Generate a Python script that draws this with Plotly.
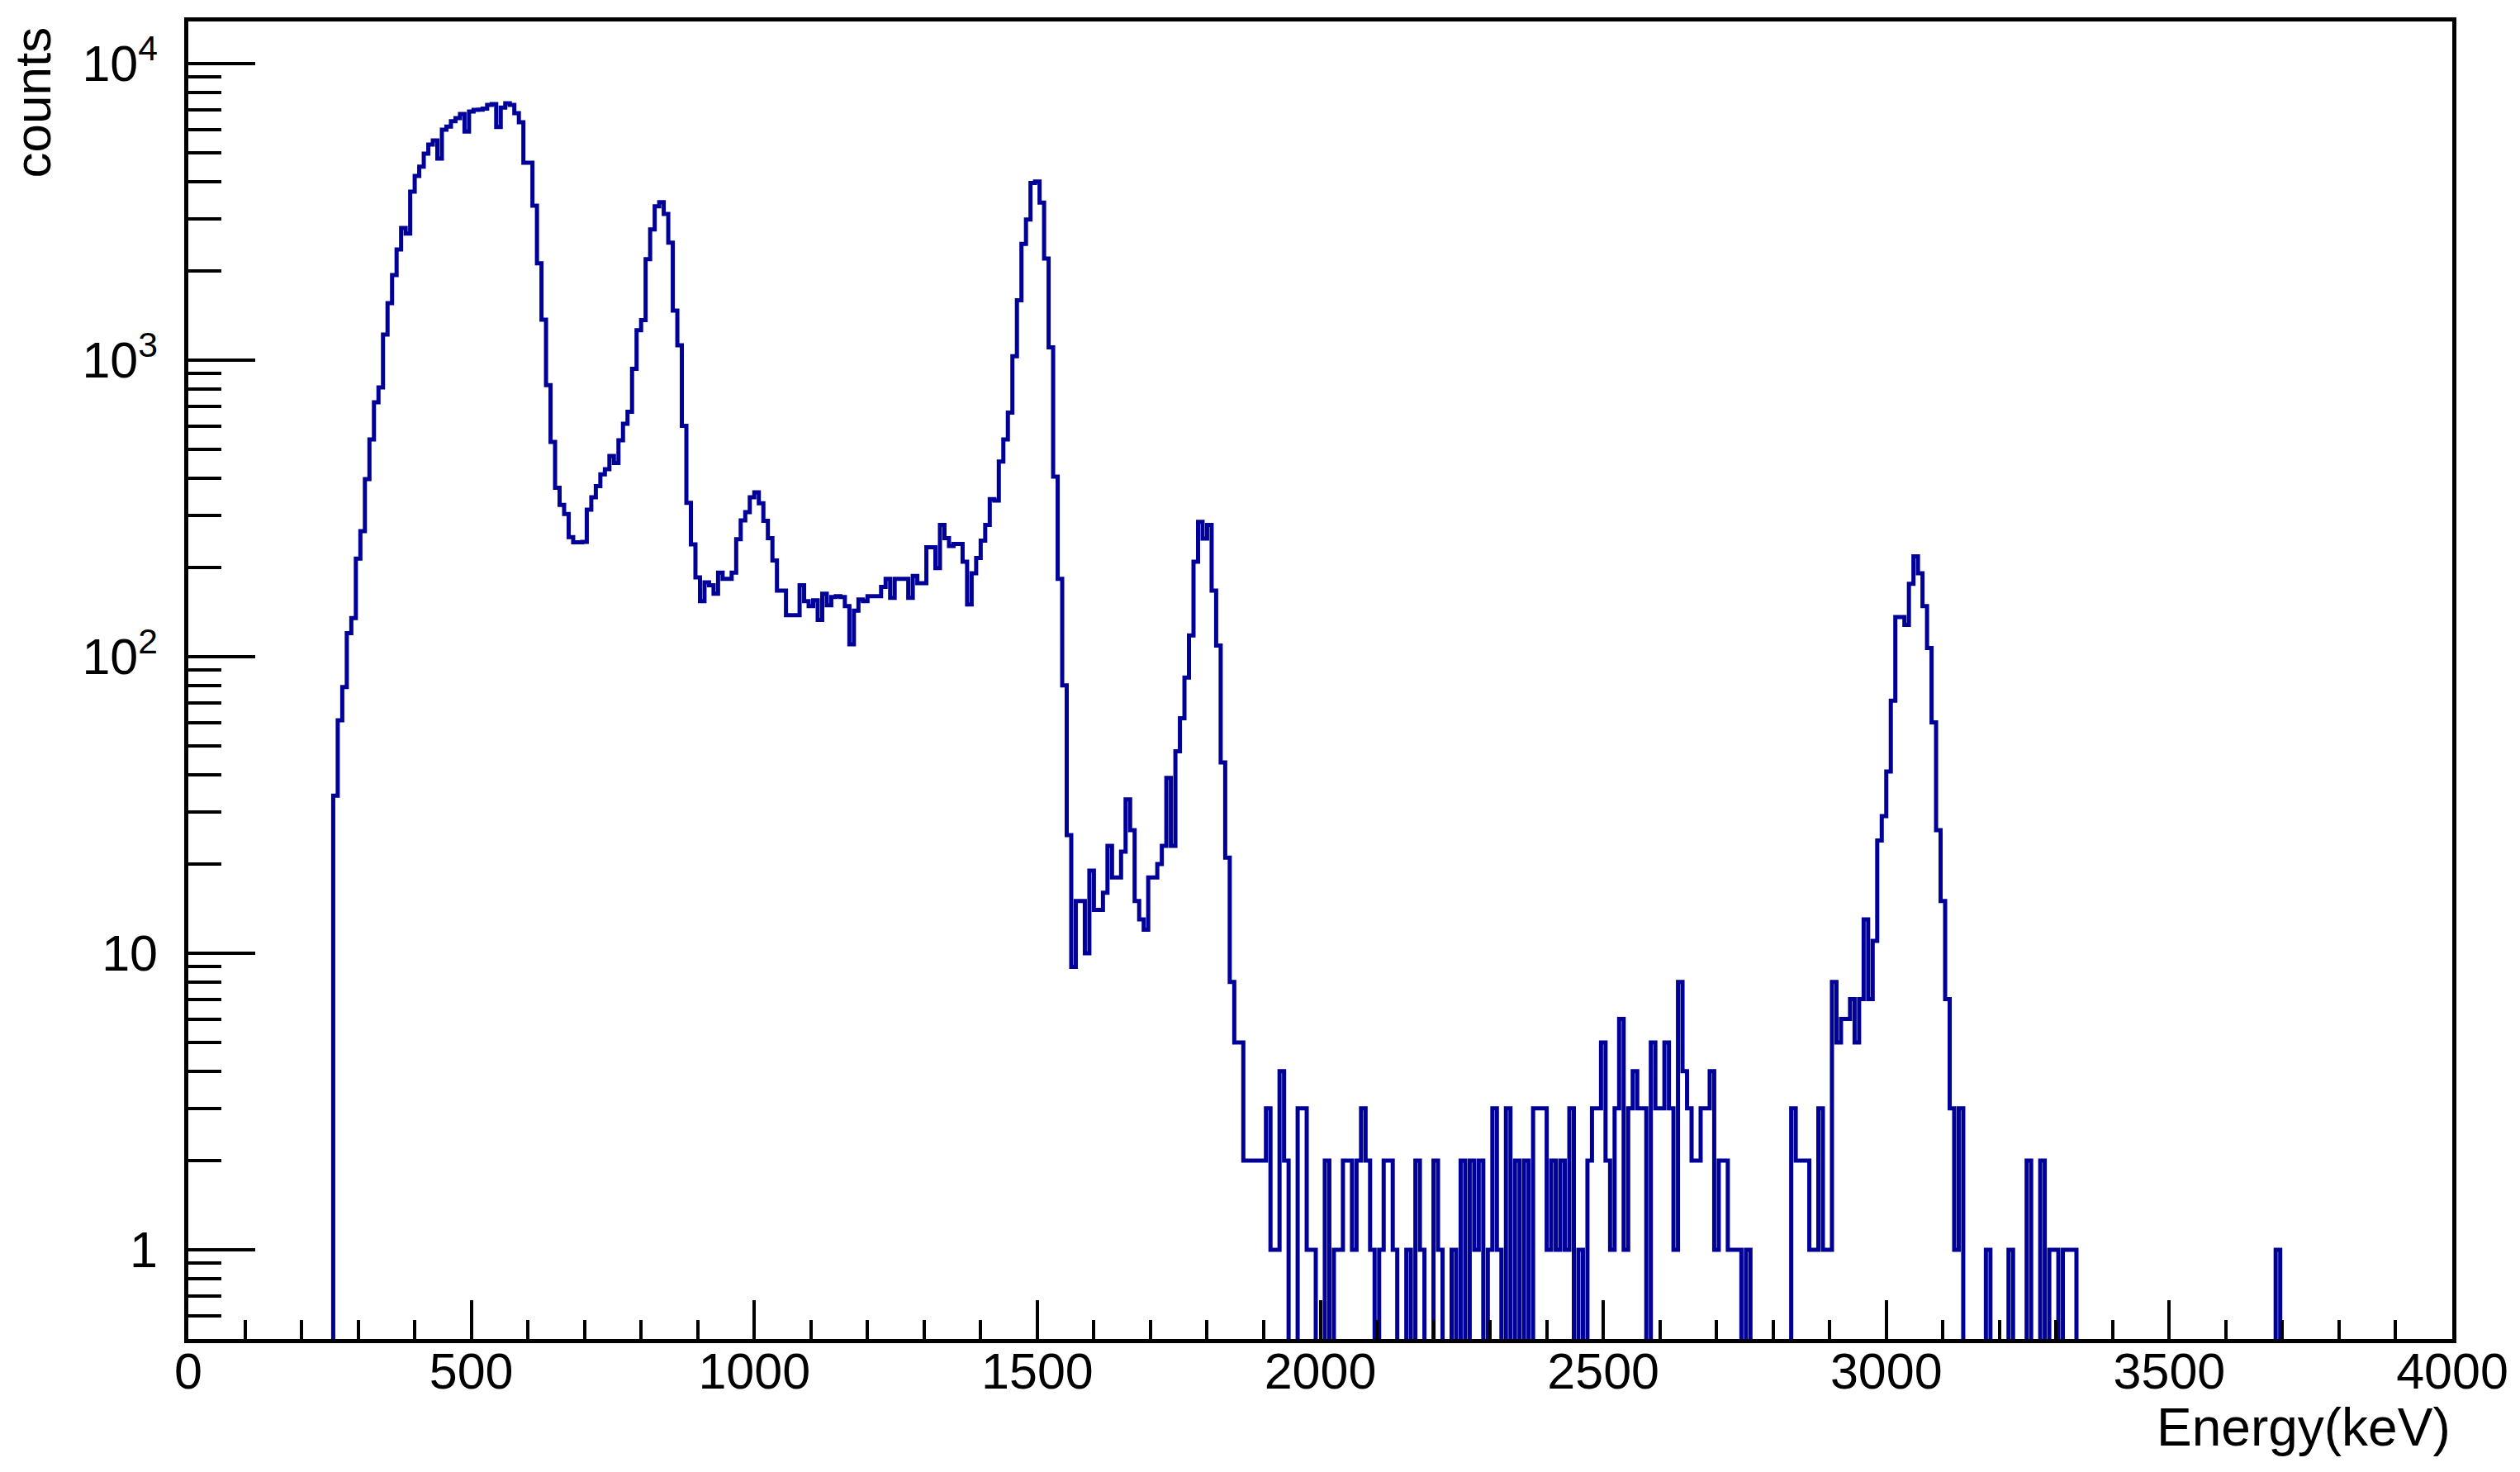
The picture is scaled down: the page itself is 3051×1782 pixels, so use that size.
import numpy as np
import plotly.graph_objects as go

# ---------------- data (8 keV bins, 0-4000 keV) ----------------
BIN_WIDTH = 8
N_BINS = 500

# low-energy continuum, 256-696 keV
start_low = 256
counts_low = [34, 61, 79, 120, 135, 214, 265, 397, 540, 721,
              809, 1219, 1556, 1936, 2362, 2790, 2670, 3700, 4180, 4490,
              4970, 5330, 5510, 4780, 5990, 6130, 6390, 6550, 6760, 5900,
              6890, 6980, 6990, 7050, 7260, 7300, 6110, 7110, 7350, 7260,
              6800, 6340, 4630, 4630, 3320, 2120, 1370, 824, 530, 371,
              325, 303, 253, 243, 243, 244]

# 840 keV peak and plateau, 704-1176 keV
start_mid = 704
counts_mid = [313, 345, 376, 412, 429, 475, 450, 537, 610, 670,
              934, 1262, 1365, 2190, 2760, 3300, 3410, 3110, 2490, 1469,
              1122, 600, 330, 239, 185, 154, 178, 174, 163, 192,
              183, 183, 192, 249, 288, 307, 345, 358, 329, 287,
              251, 211, 167, 167, 138, 138, 138, 174, 154, 148,
              155, 133, 163, 149, 159, 160, 159, 148, 110, 143]

# 1490 keV peak, 1184-1688 keV
start_p2 = 1184
counts_p2 = [156, 154, 160, 160, 160, 172, 183, 158, 183, 183,
             183, 158, 187, 177, 177, 234, 234, 199, 278, 251,
             236, 240, 240, 209, 150, 191, 215, 246, 278, 340,
             336, 455, 540, 665, 1030, 1592, 2467, 2980, 3960, 4000,
             3400, 2200, 1104, 405, 183, 80, 25, 9, 15, 15,
             10, 19, 14, 14, 16, 23, 18, 18, 22, 33,
             26, 15, 13, 12]

# 1790 keV peak and noise, 1696-2232 keV
start_p3 = 1696
counts_p3 = [18, 18, 20, 23, 39, 23, 48, 62, 85, 118,
             209, 285, 250, 278, 167, 109, 44, 21, 8, 5,
             5, 2, 2, 2, 2, 2, 3, 1, 1, 4,
             2, 0, 0, 3, 3, 1, 1, 0, 0, 2,
             0, 1, 1, 2, 2, 1, 2, 3, 2, 1,
             0, 1, 2, 2, 1, 0, 0, 1, 0, 2,
             1, 0, 0, 2, 1, 0, 0, 1]

# noise, 2240-2752 keV
start_noise = 2240
counts_noise = [0, 2, 0, 2, 1, 2, 0, 1, 3, 1,
                0, 3, 0, 2, 0, 2, 0, 3, 3, 3,
                1, 2, 1, 2, 1, 3, 0, 1, 0, 2,
                3, 3, 5, 2, 1, 3, 6, 1, 3, 4,
                3, 3, 0, 5, 3, 3, 5, 3, 1, 8,
                4, 3, 2, 2, 3, 3, 4, 1, 2, 2,
                1, 1, 1, 0, 1]

# 3050 keV peak, 2832-3128 keV
start_p4 = 2832
counts_p4 = [3, 2, 2, 2, 1, 1, 3, 1, 1, 8,
             5, 6, 6, 7, 5, 7, 13, 7, 11, 24,
             29, 41, 71, 136, 136, 128, 176, 218, 191, 148,
             107, 60, 26, 15, 7, 3, 1, 3]

# sparse high-energy tail (bin low edges, keV)
tail_energies = [3176, 3216, 3248, 3272, 3288, 3296, 3312, 3320, 3328, 3688]
tail_counts = [1, 1, 2, 2, 1, 1, 1, 1, 1, 1]

x_ticks = [0, 500, 1000, 1500, 2000, 2500, 3000, 3500, 4000]
y_ticks = [1, 10, 100, 1000, 10000]
y_ticktext = ["1", "10", "10<sup>2</sup>", "10<sup>3</sup>", "10<sup>4</sup>"]

# ---------------- build histogram ----------------
counts = np.zeros(N_BINS)
for start, seg in [(start_low, counts_low), (start_mid, counts_mid),
                   (start_p2, counts_p2), (start_p3, counts_p3),
                   (start_noise, counts_noise), (start_p4, counts_p4)]:
    i0 = start // BIN_WIDTH
    counts[i0:i0 + len(seg)] = seg
for e, c in zip(tail_energies, tail_counts):
    counts[e // BIN_WIDTH] = c

edges = np.arange(N_BINS + 1) * BIN_WIDTH
# empty bins drop below the log axis (as in ROOT)
y_plot = np.where(counts > 0, counts, 1e-3)
y_step = np.append(y_plot, y_plot[-1])

fig = go.Figure()
fig.add_trace(go.Scatter(
    x=edges, y=y_step, mode="lines",
    line=dict(shape="hv", color="rgb(0,0,153)", width=5),
    hoverinfo="skip", showlegend=False))

minor_y = [m * 10 ** d for d in range(-1, 5) for m in range(2, 10)]

FONT = "Liberation Sans, Arial, Helvetica, sans-serif"
# page body adds an 8px margin; figure sized to fit the window
fig.update_layout(
    width=3043, height=1774,
    margin=dict(l=220, r=82, t=18, b=161),
    paper_bgcolor="white", plot_bgcolor="white",
    font=dict(family=FONT, size=61, color="black"),
    xaxis=dict(
        range=[0, 4000], tickvals=x_ticks, ticks="inside", ticklen=47,
        tickwidth=4, tickcolor="black",
        minor=dict(dtick=100, tick0=0, ticks="inside", ticklen=23,
                   tickwidth=4, tickcolor="black"),
        showline=True, linecolor="black", linewidth=4.5, mirror=True,
        showgrid=False, zeroline=False, ticklabelstandoff=-18,
        tickfont=dict(size=61)),
    yaxis=dict(
        type="log", range=[-0.301, 4.142],
        tickvals=y_ticks, ticktext=y_ticktext,
        ticks="inside", ticklen=81, tickwidth=4, tickcolor="black",
        minor=dict(tickvals=minor_y, ticks="inside", ticklen=40,
                   tickwidth=4, tickcolor="black"),
        showline=True, linecolor="black", linewidth=4.5, mirror=True,
        showgrid=False, zeroline=False, ticklabelstandoff=20,
        tickfont=dict(size=61)),
    annotations=[
        dict(text="counts", xref="paper", yref="paper",
             x=-0.0686, y=0.9975, xanchor="center", yanchor="top",
             textangle=-90, showarrow=False, font=dict(size=62)),
        dict(text="Energy(keV)", xref="paper", yref="paper",
             x=1.0, y=-0.067, xanchor="right", yanchor="middle",
             showarrow=False, font=dict(size=64)),
    ],
)

fig.write_html("out.html")
